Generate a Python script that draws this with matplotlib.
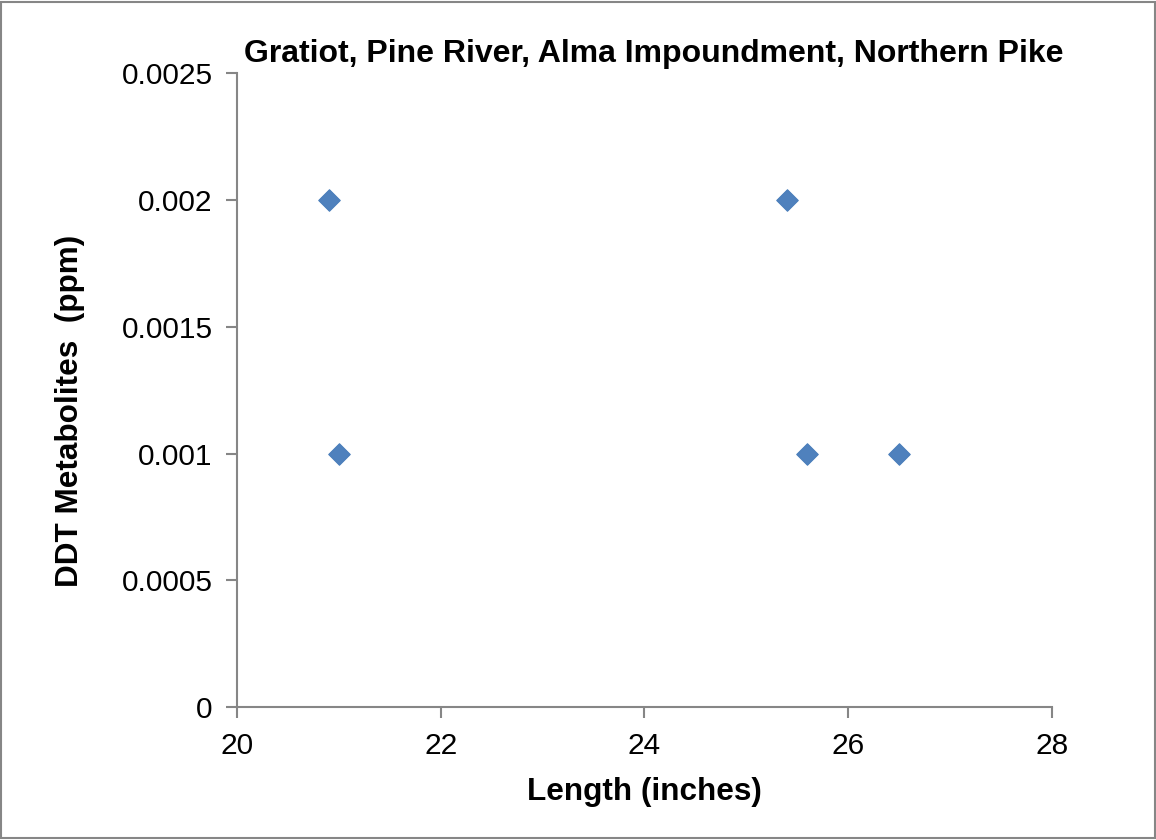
import matplotlib.pyplot as plt
from matplotlib.patches import Rectangle

plt.rcParams['font.family'] = ['Liberation Sans', 'DejaVu Sans']

# Length (inches) vs DDT metabolites (ppm)
length = [20.9, 21.0, 25.4, 25.6, 26.5]
ddt = [0.002, 0.001, 0.002, 0.001, 0.001]

xticks = [20, 22, 24, 26, 28]
yticks = [0, 0.0005, 0.001, 0.0015, 0.002, 0.0025]
yticklabels = ['0', '0.0005', '0.001', '0.0015', '0.002', '0.0025']

fig = plt.figure(figsize=(11.56, 8.4), dpi=100)
ax = fig.add_axes([0.205, 0.158, 0.705, 0.755])

ax.scatter(length, ddt, marker='D', s=120, color='#4F81BD',
           edgecolors='#4A7EBB', linewidths=0.8, zorder=3, clip_on=False)

ax.set_xlim(20, 28)
ax.set_ylim(0, 0.0025)
ax.set_xticks(xticks)
ax.set_yticks(yticks)
ax.set_yticklabels(yticklabels)

for side in ['top', 'right']:
    ax.spines[side].set_visible(False)
for side in ['left', 'bottom']:
    ax.spines[side].set_color('#868686')
    ax.spines[side].set_linewidth(1.5)
ax.tick_params(axis='both', direction='out', length=8, width=1.5,
               color='#868686', labelsize=21.5)
ax.tick_params(axis='y', pad=9.5)
ax.tick_params(axis='x', pad=10)

ax.set_title('Gratiot, Pine River, Alma Impoundment, Northern Pike',
             fontsize=23, fontweight='bold', x=0.512, pad=8)
ax.set_xlabel('Length (inches)', fontsize=22.7, fontweight='bold', labelpad=12)
ax.set_ylabel('DDT Metabolites  (ppm)', fontsize=22.7, fontweight='bold', labelpad=26)
ax.yaxis.label.set_y(0.468)

fig.patches.append(Rectangle((0.001, 0.002), 0.998, 0.996, transform=fig.transFigure,
                             fill=False, edgecolor='#868686', linewidth=1.5))

fig.savefig('out.png', dpi=100)
